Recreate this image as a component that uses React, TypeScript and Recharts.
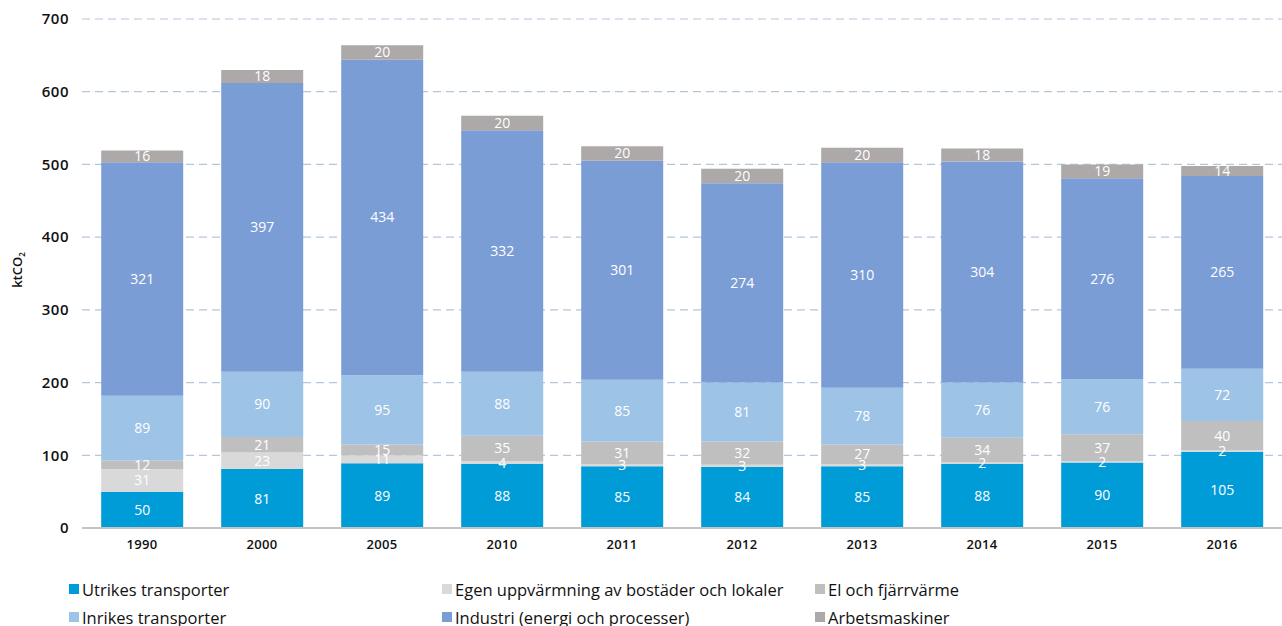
import React from 'react';
import { BarChart, Bar, XAxis, YAxis, CartesianGrid, LabelList } from 'recharts';

const years = ['1990', '2000', '2005', '2010', '2011', '2012', '2013', '2014', '2015', '2016'];
const utrikes = [50, 81, 89, 88, 85, 84, 85, 88, 90, 105];
const egen = [31, 23, 11, 4, 3, 3, 3, 2, 2, 2];
const elFjarr = [12, 21, 15, 35, 31, 32, 27, 34, 37, 40];
const inrikes = [89, 90, 95, 88, 85, 81, 78, 76, 76, 72];
const industri = [321, 397, 434, 332, 301, 274, 310, 304, 276, 265];
const arbets = [16, 18, 20, 20, 20, 20, 20, 18, 19, 14];
const yTicks = [0, 100, 200, 300, 400, 500, 600, 700];

const series = [
  { key: 'utrikes', name: 'Utrikes transporter', color: '#009CD8' },
  { key: 'egen', name: 'Egen uppvärmning av bostäder och lokaler', color: '#D9D9D9' },
  { key: 'el', name: 'El och fjärrvärme', color: '#BFBFBF' },
  { key: 'inrikes', name: 'Inrikes transporter', color: '#9DC3E6' },
  { key: 'industri', name: 'Industri (energi och processer)', color: '#7B9DD6' },
  { key: 'arbets', name: 'Arbetsmaskiner', color: '#ADA9A9' },
];

const data = years.map((year, i) => ({
  year,
  utrikes: utrikes[i],
  egen: egen[i],
  el: elFjarr[i],
  inrikes: inrikes[i],
  industri: industri[i],
  arbets: arbets[i],
}));

const FONT = '"Open Sans", sans-serif';

// legend laid out in 3 columns x 2 rows like the original
const legendCols = [69, 442, 815];

const YLabel = () => (
  <text x={22} y={270} transform="rotate(-90 22 270)" textAnchor="middle" fontFamily={FONT} fontSize={13} fontWeight={600} fill="#111">
    ktCO<tspan fontSize={8} dy={3}>2</tspan>
  </text>
);

const App: React.FC = () => {
  return (
    <div style={{ position: 'absolute', left: 0, top: 0, width: 1282, height: 626, background: '#fff', fontFamily: FONT }}>
      <BarChart
        width={1282}
        height={626}
        data={data}
        margin={{ top: 19, right: 0, left: 0, bottom: 68 }}
        barCategoryGap="16%"
      >
        <CartesianGrid vertical={false} stroke="#B4C6DA" strokeDasharray="8 5" strokeWidth={1.2} />
        <XAxis
          dataKey="year"
          height={30}
          tickSize={0}
          tickMargin={12}
          axisLine={{ stroke: '#C4C4C4', strokeWidth: 2 }}
          tick={{ fill: '#111', fontSize: 13, fontWeight: 600, fontFamily: FONT, letterSpacing: 0.3 }}
        />
        <YAxis
          width={82}
          domain={[0, 700]}
          ticks={yTicks}
          tickSize={0}
          tickMargin={13}
          axisLine={false}
          tickLine={false}
          tick={{ fill: '#111', fontSize: 15, fontWeight: 600, fontFamily: FONT, letterSpacing: 0.5 }}
          label={<YLabel />}
        />
        {series.map((s) => (
          <Bar key={s.key} dataKey={s.key} name={s.name} stackId="a" fill={s.color} isAnimationActive={false}>
            <LabelList dataKey={s.key} position="center" fill="#fff" fontSize={14} fontFamily={FONT} />
          </Bar>
        ))}
      </BarChart>
      {series.map((s, i) => {
        const col = i % 3;
        const row = Math.floor(i / 3);
        return (
          <div
            key={s.key}
            style={{
              position: 'absolute',
              left: legendCols[col],
              top: 577 + row * 28,
              height: 24,
              display: 'flex',
              alignItems: 'center',
              fontSize: 16.5,
              color: '#111',
              whiteSpace: 'nowrap',
            }}
          >
            <span style={{ display: 'inline-block', width: 10, height: 10, background: s.color, marginRight: 3 }} />
            {s.name}
          </div>
        );
      })}
    </div>
  );
};

export default App;
